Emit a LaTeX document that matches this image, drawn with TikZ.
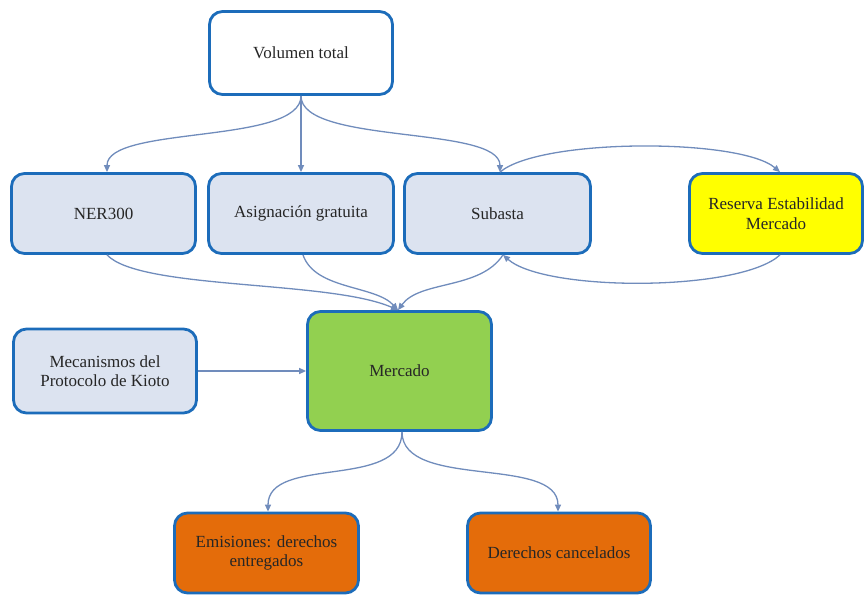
\documentclass[tikz,border=0pt]{standalone}
\usepackage{fontspec}
\setmainfont{Liberation Serif}
\newfontfamily\tnr{Liberation Serif}
\usetikzlibrary{arrows.meta}
\definecolor{bord}{RGB}{28,108,186}
\definecolor{lightf}{RGB}{220,227,240}
\definecolor{greenf}{RGB}{146,208,80}
\definecolor{yellowf}{RGB}{255,255,0}
\definecolor{orangef}{RGB}{228,108,10}
\definecolor{conn}{RGB}{112,140,188}
\tikzset{
  box/.style={draw=bord, line width=2.8pt, rounded corners=13pt, align=center,
    font=\tnr\fontsize{17}{19.5}\selectfont, text=black!85, inner sep=2pt},
  lbox/.style={box, fill=lightf},
  link/.style={draw=conn, line width=1.3pt, -{Triangle[length=7pt,width=6pt]}}
}
\begin{document}
\begin{tikzpicture}[x=1pt,y=-1pt]
\useasboundingbox (0,0) rectangle (866,596);
\node[box, fill=white, minimum width=183pt, minimum height=83pt] (vol) at (301,53) {Volumen total};
\node[lbox, minimum width=184pt, minimum height=80pt] (ner) at (103.5,213.5) {NER300};
\node[lbox, minimum width=185pt, minimum height=80pt] (asig) at (301,213.5) {Asignación gratuita};
\node[lbox, minimum width=186pt, minimum height=80pt] (sub) at (497.5,213.5) {Subasta};
\node[box, fill=yellowf, minimum width=173pt, minimum height=80pt] (res) at (776,213.5) {Reserva Estabilidad\\Mercado};
\node[box, fill=greenf, minimum width=184pt, minimum height=119pt] (merc) at (399.5,371) {Mercado};
\node[lbox, minimum width=183pt, minimum height=84pt] (meca) at (105,371) {Mecanismos del\\Protocolo de Kioto};
\node[box, fill=orangef, minimum width=184pt, minimum height=80pt] (emi) at (266.5,553) {Emisiones: derechos\\entregados};
\node[box, fill=orangef, minimum width=183pt, minimum height=80pt] (der) at (559,553) {Derechos cancelados};
% from Volumen total
\coordinate (vb) at (vol.south);
\draw[link] (vb) .. controls (301,145) and (107,125) .. (ner.north -| 107,0);
\draw[link] (vb) -- (asig.north);
\draw[link] (vb) .. controls (301,145) and (500,125) .. (sub.north -| 500,0);
% Subasta <-> Reserva
\draw[link] (sub.north -| 500,0) .. controls (540,138) and (740,138) .. (res.north -| 780,0);
\draw[link] (res.south -| 780,0) .. controls (740,292) and (545,292) .. (sub.south -| 503,0);
% to Mercado
\coordinate (mt) at (merc.north -| 398,0);
\draw[link] (ner.south -| 107,0) .. controls (140,290) and (330,280) .. (mt);
\draw[link] (asig.south -| 303,0) .. controls (315,290) and (375,285) .. (mt);
\draw[link] (sub.south -| 503,0) .. controls (480,290) and (420,280) .. (mt);
\draw[link] (meca.east) -- (merc.west);
% from Mercado
\coordinate (mb) at (merc.south -| 402,0);
\draw[link] (mb) .. controls (402,490) and (268,455) .. (emi.north -| 268,0);
\draw[link] (mb) .. controls (402,490) and (558,455) .. (der.north -| 558,0);
\end{tikzpicture}
\end{document}
